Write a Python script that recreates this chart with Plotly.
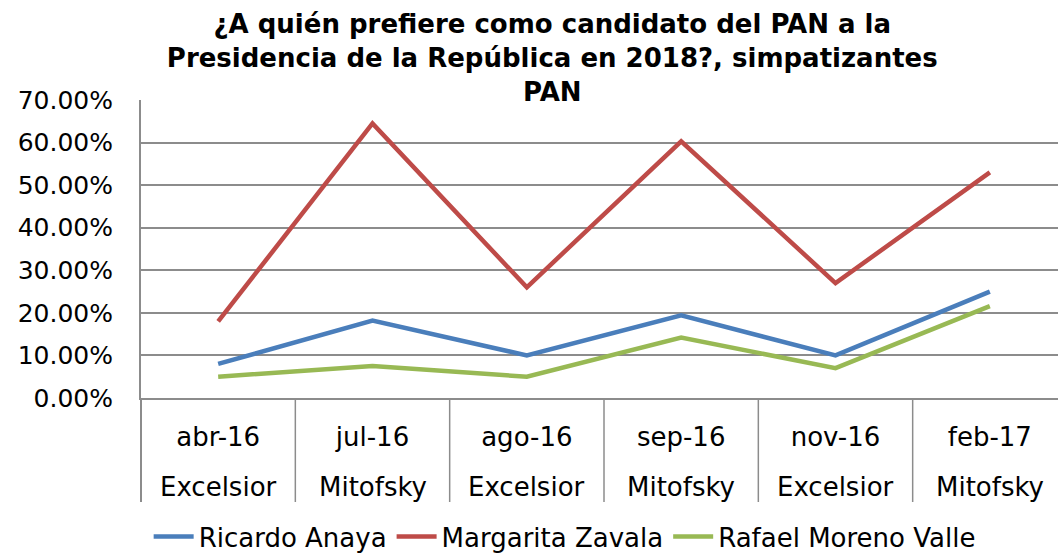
import plotly.graph_objects as go

fechas = ["abr-16", "jul-16", "ago-16", "sep-16", "nov-16", "feb-17"]
encuestadoras = ["Excelsior", "Mitofsky", "Excelsior", "Mitofsky", "Excelsior", "Mitofsky"]
ricardo_anaya = [0.080, 0.182, 0.100, 0.194, 0.100, 0.250]
margarita_zavala = [0.180, 0.645, 0.260, 0.603, 0.270, 0.530]
rafael_moreno_valle = [0.050, 0.075, 0.050, 0.142, 0.070, 0.216]
y_ticks = [0, 0.1, 0.2, 0.3, 0.4, 0.5, 0.6, 0.7]

series = [
    ("Ricardo Anaya", ricardo_anaya, "#4A7EBB"),
    ("Margarita Zavala", margarita_zavala, "#BE4B48"),
    ("Rafael Moreno Valle", rafael_moreno_valle, "#98B954"),
]

xpos = list(range(len(fechas)))
FONT = "DejaVu Sans, Verdana, sans-serif"
GRID = "#8C8C8C"

fig = go.Figure()
for name, vals, color in series:
    fig.add_trace(go.Scatter(x=xpos, y=vals, name=name, mode="lines",
                             line=dict(color=color, width=4.5)))

W, H = 1058, 554
ml, mr, mt, mb = 141, 0, 100, 156
plot_h = H - mt - mb

shapes = []
for k in range(len(fechas) - 1):
    shapes.append(dict(type="line", xref="x", yref="paper", x0=k + 0.5, x1=k + 0.5,
                       y0=0, y1=-(502 - 398) / plot_h, line=dict(color=GRID, width=1.5)))
shapes.append(dict(type="line", xref="paper", yref="paper", x0=0, x1=0,
                   y0=0, y1=-(502 - 398) / plot_h, line=dict(color=GRID, width=2)))

annotations = []
for i, e in enumerate(encuestadoras):
    annotations.append(dict(x=i, y=-(487 - 398) / plot_h, xref="x", yref="paper",
                            text=e, showarrow=False, yanchor="middle",
                            font=dict(family=FONT, size=26, color="#000000")))

fig.update_layout(
    width=W, height=H,
    margin=dict(l=ml, r=mr, t=mt, b=mb, autoexpand=False),
    paper_bgcolor="white", plot_bgcolor="white",
    title=dict(text="<b>¿A quién prefiere como candidato del PAN a la<br>Presidencia de la República en 2018?, simpatizantes<br>PAN</b>",
               x=0.522, xref="container", xanchor="center",
               y=0.94, yref="container", yanchor="top",
               font=dict(family=FONT, size=26, color="#000000")),
    xaxis=dict(range=[-0.5, 5.5 - (1067 - 1058) / 154.3], tickvals=xpos, ticktext=fechas,
               showgrid=False, zeroline=False, showline=True, linecolor=GRID, linewidth=2,
               ticks="", ticklabelstandoff=15, automargin=False,
               tickfont=dict(family=FONT, size=26, color="#000000"), fixedrange=True),
    yaxis=dict(range=[0, 0.7], tickvals=y_ticks, tickformat=".2%",
               showgrid=True, gridcolor=GRID, gridwidth=2, zeroline=False,
               showline=True, linecolor=GRID, linewidth=2, ticks="",
               ticklabelstandoff=21, automargin=False,
               tickfont=dict(family=FONT, size=25, color="#000000")),
    showlegend=True,
    legend=dict(orientation="h", x=0.462, xanchor="center", y=-0.465, yanchor="middle",
                font=dict(family=FONT, size=26, color="#000000"),
                itemwidth=40, tracegroupgap=0),
    shapes=shapes,
    annotations=annotations,
)

fig.write_html("out.html", config={"displayModeBar": False},
               post_script="document.body.style.margin='0';")
